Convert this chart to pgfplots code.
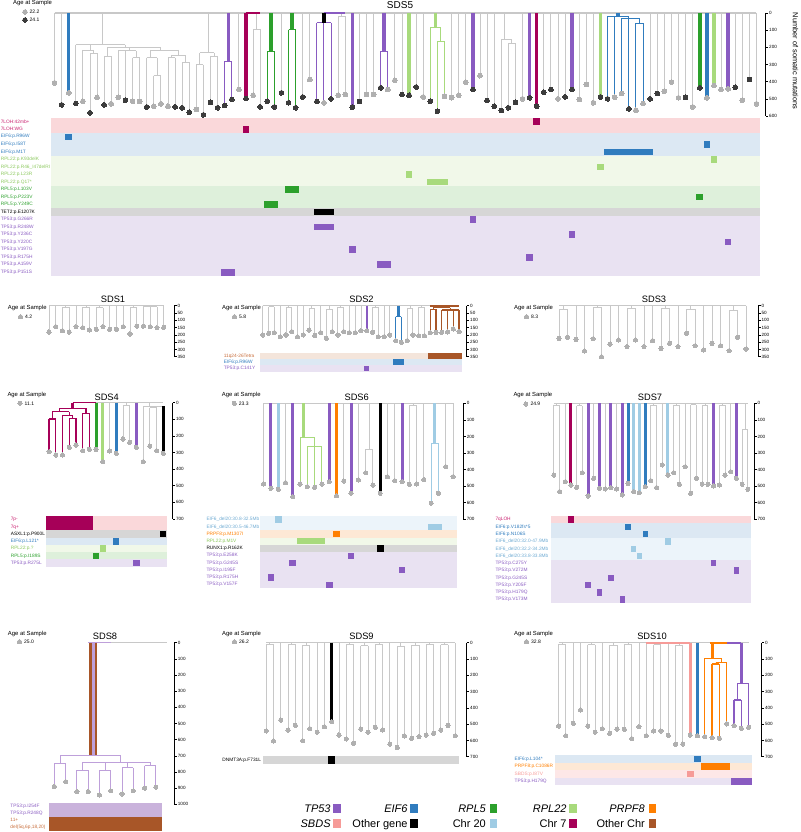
\documentclass[border=0pt]{standalone}
\usepackage{pgfplots}
\pgfplotsset{compat=1.18}
\usepackage{fontspec}
\setmainfont{Liberation Sans}
\definecolor{cTP}{RGB}{137,91,193}
\definecolor{cTPl}{RGB}{190,160,218}
\definecolor{cEIF}{RGB}{48,124,190}
\definecolor{cRPL5}{RGB}{44,160,44}
\definecolor{cRPL22}{RGB}{168,218,124}
\definecolor{cPRPF}{RGB}{255,127,0}
\definecolor{cSBDS}{RGB}{246,155,152}
\definecolor{cC20}{RGB}{160,204,228}
\definecolor{cC7}{RGB}{166,0,88}
\definecolor{cOC}{RGB}{168,86,40}
\definecolor{cGr}{RGB}{200,200,200}
\definecolor{cDL}{RGB}{176,176,176}
\definecolor{cDD}{RGB}{60,60,60}
\definecolor{bC7}{RGB}{250,216,218}
\definecolor{bEIF}{RGB}{220,232,243}
\definecolor{bRPL22}{RGB}{241,248,233}
\definecolor{bRPL5}{RGB}{222,240,219}
\definecolor{bOth}{RGB}{214,214,214}
\definecolor{bTP}{RGB}{233,226,242}
\definecolor{bC20}{RGB}{236,244,250}
\definecolor{bPRPF}{RGB}{253,232,213}
\definecolor{bSBDS}{RGB}{253,231,231}
\definecolor{bOC}{RGB}{244,229,219}
\definecolor{bTP8}{RGB}{201,178,219}
\definecolor{lC7}{RGB}{200,30,110}
\definecolor{lRPL22}{RGB}{140,200,95}
\definecolor{lC20}{RGB}{110,170,210}
\definecolor{lOC}{RGB}{200,110,60}
\pgfplotsset{
  unbounded coords=jump,
  /pgf/number format/assume math mode=true,
  /pgf/number format/1000 sep={},
  tree/.style={scale only axis, clip=false, anchor=north west, y dir=reverse,
    axis x line=none, axis y line*=right, y axis line style={-,line width=0.6pt,black},
    ytick style={line width=0.6pt,black}, tick align=outside, major tick length=2.5pt,
    yticklabel style={font=\fontsize{4.6}{5}\selectfont, inner sep=0.8pt}, xmin=0.5, ymin=0},
  mat/.style={scale only axis, clip=false, anchor=north west, y dir=reverse,
    axis line style={draw=none}, xtick=\empty, ytick style={draw=none}, major tick length=0pt,
    yticklabel style={font=\fontsize{4.8}{5.5}\selectfont, anchor=east, text width=#1, align=left, inner sep=0pt},
    xmin=0.5, ymin=0.5},
  tg/.style={color=cGr, line width=0.9pt},
  tk/.style={color=#1, line width=3pt},
  tn/.style={color=#1, line width=1pt},
  dl/.style={only marks, color=cDL, mark=*, mark size=2.1pt, mark options={draw=cDL, fill=cDL, line width=0pt}},
  dd/.style={only marks, color=cDD, mark=*, mark size=2.1pt, mark options={draw=cDD, fill=cDD, line width=0pt}},
}
\newcommand{\rect}[5]{\addplot[fill=#5,draw=none,forget plot] coordinates {(#1,#2) (#3,#2) (#3,#4) (#1,#4)};}
\newcommand{\cell}[4]{%
  \pgfmathsetmacro{\cxa}{#1-0.46}\pgfmathsetmacro{\cxb}{#2+0.46}%
  \pgfmathsetmacro{\cya}{#3-0.44}\pgfmathsetmacro{\cyb}{#3+0.44}%
  \edef\celltmp{\noexpand\addplot[fill=#4,draw=none,forget plot] coordinates {(\cxa,\cya) (\cxb,\cya) (\cxb,\cyb) (\cxa,\cyb)};}%
  \celltmp}
\begin{document}
\begin{tikzpicture}
\useasboundingbox (0,0) rectangle (800pt,-832pt);

%================ SDS5 tree
\begin{axis}[tree, at={(51pt,-13pt)}, width=714.7pt, height=103.2pt, xmax=101.3, ymax=600, ytick={0,100,...,600}]
\addplot[tg] coordinates {(1,0)(1,406) (nan,nan) (2,0)(2,534) (nan,nan)
(7.7,0)(7.7,184) (nan,nan) (4,184)(11,184) (nan,nan) (4,184)(4,526) (nan,nan)
(6,184)(6,215) (nan,nan) (5,215)(6.5,215) (nan,nan) (5,215)(5,513) (nan,nan)
(6.5,215)(6.5,235) (nan,nan) (6,235)(7,235) (nan,nan) (6,235)(6,580) (nan,nan) (7,235)(7,490) (nan,nan)
(11,184)(11,200) (nan,nan) (8.5,200)(16,200) (nan,nan)
(8.5,200)(8.5,250) (nan,nan) (8,250)(9,250) (nan,nan) (8,250)(8,534) (nan,nan) (9,250)(9,528) (nan,nan)
(11.5,200)(11.5,220) (nan,nan) (10,220)(12.5,220) (nan,nan) (10,220)(10,490) (nan,nan) (11,220)(11,507) (nan,nan)
(12.5,220)(12.5,260) (nan,nan) (12,260)(13,260) (nan,nan) (12,260)(12,513) (nan,nan) (13,260)(13,515) (nan,nan)
(16,200)(16,215) (nan,nan) (14.5,215)(18.5,215) (nan,nan)
(14.5,215)(14.5,261) (nan,nan) (14,261)(15.5,261) (nan,nan) (14,261)(14,546) (nan,nan)
(15.5,261)(15.5,364) (nan,nan) (15,364)(16,364) (nan,nan) (15,364)(15,542) (nan,nan) (16,364)(16,528) (nan,nan)
(18.5,215)(18.5,245) (nan,nan) (17.5,245)(19.5,245) (nan,nan)
(17.5,245)(17.5,260) (nan,nan) (17,260)(18,260) (nan,nan) (17,260)(17,542) (nan,nan) (18,260)(18,546) (nan,nan)
(19.5,245)(19.5,286) (nan,nan) (19,286)(20,286) (nan,nan) (19,286)(19,551) (nan,nan) (20,286)(20,577) (nan,nan)
(22.7,0)(22.7,232) (nan,nan) (21.5,232)(23.5,232) (nan,nan)
(21.5,232)(21.5,300) (nan,nan) (21,300)(22,300) (nan,nan) (21,300)(21,561) (nan,nan) (22,300)(22,592) (nan,nan)
(23.5,232)(23.5,250) (nan,nan) (23,250)(24,250) (nan,nan) (23,250)(23,519) (nan,nan) (24,250)(24,551) (nan,nan)
(27,0)(27,445) (nan,nan)
(29.5,0)(29.5,93) (nan,nan) (29,93)(30,93) (nan,nan) (29,93)(29,478) (nan,nan) (30,93)(30,546) (nan,nan)
(33,0)(33,464) (nan,nan) (36,0)(36,488) (nan,nan) (37,0)(37,387) (nan,nan)
(41.5,0)(41.5,20) (nan,nan) (41,20)(42,20) (nan,nan) (41,20)(41,478) (nan,nan) (42,20)(42,474) (nan,nan)
(44,0)(44,515) (nan,nan) (45,0)(45,474) (nan,nan) (46,0)(46,474) (nan,nan)
(49,0)(49,391) (nan,nan) (50,0)(50,474) (nan,nan) (52,0)(52,430) (nan,nan) (53,0)(53,488) (nan,nan)
(57,0)(57,492) (nan,nan) (58,0)(58,478) (nan,nan) (59,0)(59,402) (nan,nan)
(61,0)(61,364) (nan,nan) (62,0)(62,509) (nan,nan) (63,0)(63,542) (nan,nan)
(64.5,0)(64.5,155) (nan,nan) (64,155)(65.5,155) (nan,nan) (64,155)(64,567) (nan,nan)
(65.5,155)(65.5,175) (nan,nan) (65,175)(66,175) (nan,nan) (65,175)(65,551) (nan,nan) (66,175)(66,519) (nan,nan)
(67,0)(67,499) (nan,nan)
(70,0)(70,461) (nan,nan) (71,0)(71,445) (nan,nan) (72,0)(72,499) (nan,nan) (73,0)(73,488) (nan,nan)
(75,0)(75,503) (nan,nan) (76,0)(76,416) (nan,nan) (77,0)(77,522) (nan,nan)
(85,0)(85,499) (nan,nan) (86,0)(86,468) (nan,nan) (87,0)(87,455) (nan,nan) (88,0)(88,402) (nan,nan)
(89,0)(89,493) (nan,nan) (90,0)(90,490) (nan,nan) (91,0)(91,546) (nan,nan)
(95,0)(95,445) (nan,nan)
(97,0)(97,432) (nan,nan) (98,0)(98,507) (nan,nan) (99,0)(99,387) (nan,nan) (100,0)(100,528)};
\addplot[color=cGr, line width=1.6pt] coordinates {(1,0)(100,0)};
\addplot[tk=cTP, line width=3.5pt] coordinates {(25.5,0)(25.5,281) (nan,nan) (43,0)(43,548) (nan,nan) (47.5,0)(47.5,222) (nan,nan) (60,0)(60,445) (nan,nan) (68,0)(68,493) (nan,nan) (74,0)(74,445) (nan,nan) (96,0)(96,441)};
\addplot[tn=cTP] coordinates {(25,281)(26,281) (nan,nan) (25,281)(25,538) (nan,nan) (26,281)(26,503) (nan,nan)
(38,58)(40,58) (nan,nan) (38,58)(38,515) (nan,nan) (39,58)(39,522) (nan,nan) (40,58)(40,499) (nan,nan)
(47,222)(48,222) (nan,nan) (47,222)(47,435) (nan,nan) (48,222)(48,445)};
\addplot[tk=cTP, line width=2pt] coordinates {(39,0)(42,0)};
\addplot[tk=cC7, line width=3.5pt] coordinates {(28,0)(28,497) (nan,nan) (69,0)(69,542)};
\addplot[tk=cC7, line width=1.5pt] coordinates {(28,0)(30,0)};
\addplot[tk=cRPL5, line width=3.5pt] coordinates {(31.5,0)(31.5,222) (nan,nan) (34.5,0)(34.5,97) (nan,nan) (92,0)(92,435)};
\addplot[tn=cRPL5] coordinates {(31,222)(32,222) (nan,nan) (31,222)(31,513) (nan,nan) (32,222)(32,546) (nan,nan)
(34,97)(35,97) (nan,nan) (34,97)(34,522) (nan,nan) (35,97)(35,551)};
\addplot[tk=cRPL22, line width=3.5pt] coordinates {(51,0)(51,478) (nan,nan) (54.75,0)(54.75,87) (nan,nan) (78,0)(78,488) (nan,nan) (94,0)(94,422)};
\addplot[tn=cRPL22] coordinates {(54,87)(55.5,87) (nan,nan) (54,87)(54,513) (nan,nan) (55.5,87)(55.5,164) (nan,nan) (55,164)(56,164) (nan,nan) (55,164)(55,571) (nan,nan) (56,164)(56,484)};
\addplot[tk=cEIF, line width=3.5pt] coordinates {(3,0)(3,464) (nan,nan) (80.5,0)(80.5,20) (nan,nan) (93,0)(93,493)};
\addplot[tn=cEIF] coordinates {(79,20)(82,20) (nan,nan) (79,20)(79,499) (nan,nan) (80,20)(80,490) (nan,nan) (82,20)(82,30) (nan,nan) (81,30)(83.5,30) (nan,nan) (81,30)(81,468) (nan,nan) (82,30)(82,557) (nan,nan) (83.5,30)(83.5,60) (nan,nan) (83,60)(84,60) (nan,nan) (83,60)(83,565) (nan,nan) (84,60)(84,526)};
\addplot[tk=black, line width=3.5pt] coordinates {(39,0)(39,58)};
\addplot[dl, mark size=2.4pt] coordinates {(1,406)(3,464)(5,513)(7,490)(9,528)(10,490)(12,513)(13,515)(15,542)(16,528)(17,542)(21,561)(27,445)(29,478)(37,387)(39,522)(41,478)(42,474)(45,474)(46,474)(48,445)(49,391)(53,488)(56,484)(57,492)(58,478)(59,402)(61,364)(67,499)(72,499)(75,503)(76,416)(77,522)(80,490)(81,468)(83,565)(84,526)(87,455)(88,402)(89,493)(91,546)(93,493)(94,422)(95,445)(96,441)(98,507)(100,528)};
\addplot[dd, mark size=2.4pt] coordinates {(2,534)(4,526)(6,580)(8,534)(11,507)(14,546)(18,546)(19,551)(20,577)(22,592)(23,519)(24,551)(25,538)(26,503)(28,497)(30,546)(31,513)(32,546)(33,464)(34,522)(35,551)(36,488)(38,515)(40,499)(43,548)(44,515)(47,435)(50,474)(51,478)(52,430)(54,513)(55,571)(60,445)(62,509)(63,542)(64,567)(65,551)(66,519)(68,493)(69,542)(70,461)(71,445)(73,488)(74,445)(78,488)(79,499)(82,557)(85,499)(86,468)(90,490)(92,435)(97,432)(99,387)};
\end{axis}

%================ SDS5 matrix
\begin{axis}[mat=50pt, at={(51pt,-118pt)}, width=709pt, height=158pt, xmax=100.5, ymax=21.5,
  ytick={1,...,21},
  yticklabels={{\textcolor{lC7}{7LOH:42mb+}},{\textcolor{lC7}{7LOH:WG}},{\textcolor{cEIF}{EIF6:p.R96W}},{\textcolor{cEIF}{EIF6:p.I58T}},{\textcolor{cEIF}{EIF6:p.M1T}},
  {\textcolor{lRPL22}{RPL22:p.K93delK}},{\textcolor{lRPL22}{RPL22:p.R46\_I47delRI}},{\textcolor{lRPL22}{RPL22:p.L23R}},{\textcolor{lRPL22}{RPL22:p.Q17*}},
  {\textcolor{cRPL5}{RPL5:p.L103V}},{\textcolor{cRPL5}{RPL5:p.P223V}},{\textcolor{cRPL5}{RPL5:p.Y249C}},{TET2:p.E1207K},
  {\textcolor{cTP}{TP53:p.G266R}},{\textcolor{cTP}{TP53:p.R248W}},{\textcolor{cTP}{TP53:p.Y236C}},{\textcolor{cTP}{TP53:p.Y220C}},{\textcolor{cTP}{TP53:p.V197G}},{\textcolor{cTP}{TP53:p.R175H}},{\textcolor{cTP}{TP53:p.A159V}},{\textcolor{cTP}{TP53:p.P151S}}}]
\rect{0.5}{0.5}{100.5}{2.5}{bC7}
\rect{0.5}{2.5}{100.5}{5.5}{bEIF}
\rect{0.5}{5.5}{100.5}{9.5}{bRPL22}
\rect{0.5}{9.5}{100.5}{12.5}{bRPL5}
\rect{0.5}{12.5}{100.5}{13.5}{bOth}
\rect{0.5}{13.5}{100.5}{21.5}{bTP}
\cell{69}{69}{1}{cC7}
\cell{28}{28}{2}{cC7}
\cell{3}{3}{3}{cEIF}
\cell{93}{93}{4}{cEIF}
\cell{79}{85}{5}{cEIF}
\cell{94}{94}{6}{cRPL22}
\cell{78}{78}{7}{cRPL22}
\cell{51}{51}{8}{cRPL22}
\cell{54}{56}{9}{cRPL22}
\cell{34}{35}{10}{cRPL5}
\cell{92}{92}{11}{cRPL5}
\cell{31}{32}{12}{cRPL5}
\cell{38}{40}{13}{black}
\cell{60}{60}{14}{cTP}
\cell{38}{40}{15}{cTP}
\cell{74}{74}{16}{cTP}
\cell{96}{96}{17}{cTP}
\cell{43}{43}{18}{cTP}
\cell{68}{68}{19}{cTP}
\cell{47}{48}{20}{cTP}
\cell{25}{26}{21}{cTP}
\end{axis}

%================ SDS1
\begin{axis}[tree, at={(45.6pt,-305.7pt)}, width=128.4pt, height=51pt, xmax=19.52, ymax=350, ytick={0,50,...,350}]
\addplot[tg] coordinates {(1,0)(18,0) (nan,nan)
(1,0)(1,181) (nan,nan) (2,0)(2,144) (nan,nan)
(3.5,0)(3.5,12) (nan,nan) (3,12)(4,12) (nan,nan) (3,12)(3,172) (nan,nan) (4,12)(4,181) (nan,nan)
(5,0)(5,144) (nan,nan)
(6.5,0)(6.5,10) (nan,nan) (6,10)(7,10) (nan,nan) (6,10)(6,151) (nan,nan) (7,10)(7,167) (nan,nan)
(8.5,0)(8.5,14) (nan,nan) (8,14)(9,14) (nan,nan) (8,14)(8,162) (nan,nan) (9,14)(9,144) (nan,nan)
(10,0)(10,162) (nan,nan) (11,0)(11,162) (nan,nan) (12,0)(12,144) (nan,nan)
(13.5,0)(13.5,10) (nan,nan) (13,10)(14,10) (nan,nan) (13,10)(13,194) (nan,nan) (14,10)(14,140) (nan,nan)
(16,0)(16,8) (nan,nan) (15,8)(17,8) (nan,nan) (15,8)(15,140) (nan,nan) (16,8)(16,144) (nan,nan) (17,8)(17,151) (nan,nan)
(18,0)(18,149)};
\addplot[dl] coordinates {(1,181)(2,144)(3,172)(4,181)(5,144)(6,151)(7,167)(8,162)(9,144)(10,162)(11,162)(12,144)(13,194)(14,140)(15,140)(16,144)(17,151)(18,149)};
\end{axis}

%================ SDS2
\begin{axis}[tree, at={(260pt,-305.7pt)}, width=206.7pt, height=51pt, xmax=36.32, ymax=350, ytick={0,50,...,350}]
\addplot[tg] coordinates {(1,0)(35,0) (nan,nan)
(1,0)(1,201) (nan,nan)
(2.5,0)(2.5,8) (nan,nan) (2,8)(3,8) (nan,nan) (2,8)(2,190) (nan,nan) (3,8)(3,185) (nan,nan)
(4,0)(4,213) (nan,nan)
(5.5,0)(5.5,15) (nan,nan) (5,15)(6,15) (nan,nan) (5,15)(5,201) (nan,nan) (6,15)(6,178) (nan,nan)
(7,0)(7,213) (nan,nan) (8,0)(8,201) (nan,nan)
(9.5,0)(9.5,18) (nan,nan) (9,18)(10,18) (nan,nan) (9,18)(9,167) (nan,nan) (10,18)(10,204) (nan,nan)
(11,0)(11,185) (nan,nan)
(12.5,0)(12.5,25) (nan,nan) (12,25)(13,25) (nan,nan) (12,25)(12,224) (nan,nan) (13,25)(13,178) (nan,nan)
(14.5,0)(14.5,10) (nan,nan) (14,10)(15,10) (nan,nan) (14,10)(14,201) (nan,nan) (15,10)(15,178) (nan,nan)
(16,0)(16,185) (nan,nan) (17,0)(17,185) (nan,nan) (18,0)(18,172) (nan,nan)
(20.5,0)(20.5,12) (nan,nan) (20,12)(21,12) (nan,nan) (20,12)(20,183) (nan,nan) (21,12)(21,213) (nan,nan)
(22,0)(22,213) (nan,nan) (23,0)(23,201) (nan,nan)
(26.5,0)(26.5,20) (nan,nan) (26,20)(27,20) (nan,nan) (26,20)(26,240) (nan,nan) (27,20)(27,201) (nan,nan)
(28.5,0)(28.5,10) (nan,nan) (28,10)(29,10) (nan,nan) (28,10)(28,206) (nan,nan) (29,10)(29,206)};
\addplot[tk=cTP, line width=2.2pt] coordinates {(19,0)(19,172)};
\addplot[tk=cEIF, line width=2.2pt] coordinates {(24.5,0)(24.5,75)};
\addplot[tn=cEIF] coordinates {(24,75)(25,75) (nan,nan) (24,75)(24,240) (nan,nan) (25,75)(25,252)};
\addplot[tk=cOC, line width=2pt] coordinates {(32.25,0)(32.25,15) (nan,nan) (30,0)(35,0)};
\addplot[tn=cOC, line width=1.2pt] coordinates {(30.5,15)(33.5,15) (nan,nan) (30.5,15)(30.5,25) (nan,nan) (30,25)(31,25) (nan,nan) (30,25)(30,185) (nan,nan) (31,25)(31,183) (nan,nan) (33.5,15)(33.5,30) (nan,nan) (32,30)(35,30) (nan,nan) (32,30)(32,183) (nan,nan) (33,30)(33,180) (nan,nan) (34,30)(34,160) (nan,nan) (35,30)(35,178)};
\addplot[dl] coordinates {(1,201)(2,190)(3,185)(4,213)(5,201)(6,178)(7,213)(8,201)(9,167)(10,204)(11,185)(12,224)(13,178)(14,201)(15,178)(16,185)(17,185)(18,172)(19,172)(20,183)(21,213)(22,213)(23,201)(24,240)(25,252)(26,240)(27,201)(28,206)(29,206)(30,185)(31,183)(32,183)(33,180)(34,160)(35,178)};
\end{axis}
\begin{axis}[mat=36pt, at={(260pt,-352.7pt)}, width=202pt, height=19pt, xmax=35.5, ymax=3.5,
  ytick={1,2,3}, yticklabels={{\textcolor{lOC}{11q24-26Tetra}},{\textcolor{cEIF}{EIF6:p.R96W}},{\textcolor{cTP}{TP53:p.C141Y}}}]
\rect{0.5}{0.5}{35.5}{1.5}{bOC}
\rect{0.5}{1.5}{35.5}{2.5}{bEIF}
\rect{0.5}{2.5}{35.5}{3.5}{bTP}
\cell{30}{35}{1}{cOC}
\cell{24}{25}{2}{cEIF}
\cell{19}{19}{3}{cTP}
\end{axis}

%================ SDS3
\begin{axis}[tree, at={(554.75pt,-305.7pt)}, width=203.25pt, height=51pt, xmax=24.41, ymax=350, ytick={0,50,...,350}]
\addplot[tg] coordinates {(1,0)(23,0) (nan,nan)
(1.5,0)(1.5,25) (nan,nan) (1,25)(2,25) (nan,nan) (1,25)(1,224) (nan,nan) (2,25)(2,217) (nan,nan)
(3,0)(3,231) (nan,nan) (4,0)(4,311) (nan,nan)
(5.5,0)(5.5,15) (nan,nan) (5,15)(6,15) (nan,nan) (5,15)(5,227) (nan,nan) (6,15)(6,350) (nan,nan)
(7,0)(7,263) (nan,nan) (8,0)(8,236) (nan,nan)
(9.5,0)(9.5,20) (nan,nan) (9,20)(10,20) (nan,nan) (9,20)(9,281) (nan,nan) (10,20)(10,236) (nan,nan)
(11,0)(11,281) (nan,nan) (12,0)(12,240) (nan,nan)
(13.5,0)(13.5,20) (nan,nan) (13,20)(14,20) (nan,nan) (13,20)(13,293) (nan,nan) (14,20)(14,259) (nan,nan)
(15,0)(15,281) (nan,nan)
(16.5,0)(16.5,25) (nan,nan) (16,25)(17,25) (nan,nan) (16,25)(16,190) (nan,nan) (17,25)(17,275) (nan,nan)
(18,0)(18,304) (nan,nan) (19,0)(19,259) (nan,nan) (20,0)(20,275) (nan,nan)
(21.5,0)(21.5,30) (nan,nan) (21,30)(22,30) (nan,nan) (21,30)(21,309) (nan,nan) (22,30)(22,217) (nan,nan)
(23,0)(23,297)};
\addplot[dl] coordinates {(1,224)(2,217)(3,231)(4,311)(5,227)(6,350)(7,263)(8,236)(9,281)(10,236)(11,281)(12,240)(13,293)(14,259)(15,281)(16,190)(17,275)(18,304)(19,259)(20,275)(21,309)(22,217)(23,297)};
\end{axis}

%================ SDS4
\begin{axis}[tree, at={(45.7pt,-402.7pt)}, width=126.8pt, height=116.3pt, xmax=19.37, ymax=700, ytick={0,100,...,700}]
\addplot[tg] coordinates {(8,0)(18,0) (nan,nan) (10,0)(10,291) (nan,nan)
(12.5,0)(12.5,15) (nan,nan) (12,15)(13,15) (nan,nan) (12,15)(12,219) (nan,nan) (13,15)(13,239) (nan,nan)
(16,0)(16,20) (nan,nan) (15,20)(18,20) (nan,nan) (15,20)(15,355) (nan,nan)
(16.5,20)(16.5,30) (nan,nan) (16,30)(17,30) (nan,nan) (16,30)(16,261) (nan,nan) (17,30)(17,289)};
\addplot[tk=cC7, line width=2.5pt] coordinates {(4.5,0)(4.5,34)};
\addplot[tn=cC7, line width=1.2pt] coordinates {(4.5,0)(8,0) (nan,nan)
(2.5,34)(6.5,34) (nan,nan) (2.5,34)(2.5,55) (nan,nan) (1.5,55)(4,55) (nan,nan)
(1.5,55)(1.5,98) (nan,nan) (1,98)(2,98) (nan,nan) (1,98)(1,295) (nan,nan) (2,98)(2,315) (nan,nan)
(4,55)(4,75) (nan,nan) (3,75)(4.5,75) (nan,nan) (3,75)(3,315) (nan,nan)
(4.5,75)(4.5,95) (nan,nan) (4,95)(5,95) (nan,nan) (4,95)(4,269) (nan,nan) (5,95)(5,255) (nan,nan)
(6.5,34)(6.5,64) (nan,nan) (6,64)(7,64) (nan,nan) (6,64)(6,289) (nan,nan) (7,64)(7,281)};
\addplot[tk=cRPL5] coordinates {(8,0)(8,281)};
\addplot[tk=cRPL22] coordinates {(9,0)(9,355)};
\addplot[tk=cEIF] coordinates {(11,0)(11,305)};
\addplot[tk=cTP] coordinates {(14,0)(14,269)};
\addplot[tk=black] coordinates {(18,20)(18,305)};
\addplot[dl] coordinates {(1,295)(2,315)(3,315)(4,269)(5,255)(6,289)(7,281)(8,281)(9,355)(10,291)(11,305)(12,219)(13,239)(14,269)(15,355)(16,261)(17,289)(18,305)};
\end{axis}
\begin{axis}[mat=34.7pt, at={(45.7pt,-516pt)}, width=121pt, height=50.7pt, xmax=18.5, ymax=7.5,
  ytick={1,...,7}, yticklabels={{\textcolor{lC7}{7p-}},{\textcolor{lC7}{7q+}},{ASXL1:p.P900L},{\textcolor{cEIF}{EIF6:p.L121*}},{\textcolor{lRPL22}{RPL22:p.?}},{\textcolor{cRPL5}{RPL5:p.I189S}},{\textcolor{cTP}{TP53:p.R275L}}}]
\rect{0.5}{0.5}{18.5}{2.5}{bC7}
\rect{0.5}{2.5}{18.5}{3.5}{bOth}
\rect{0.5}{3.5}{18.5}{4.5}{bEIF}
\rect{0.5}{4.5}{18.5}{5.5}{bRPL22}
\rect{0.5}{5.5}{18.5}{6.5}{bRPL5}
\rect{0.5}{6.5}{18.5}{7.5}{bTP}
\rect{0.5}{0.5}{7.5}{2.5}{cC7}
\cell{18}{18}{3}{black}
\cell{11}{11}{4}{cEIF}
\cell{9}{9}{5}{cRPL22}
\cell{8}{8}{6}{cRPL5}
\cell{14}{14}{7}{cTP}
\end{axis}

%================ SDS6
\begin{axis}[tree, at={(260pt,-403.3pt)}, width=203.3pt, height=116pt, xmax=28.41, ymax=700, ytick={0,100,...,700}]
\addplot[tg] coordinates {(1,0)(27,0) (nan,nan) (1,0)(1,487) (nan,nan) (4,0)(4,479) (nan,nan) (12,0)(12,469) (nan,nan) (14,0)(14,463) (nan,nan)
(15.5,0)(15.5,276) (nan,nan) (15,276)(16,276) (nan,nan) (15,276)(15,419) (nan,nan) (16,276)(16,493) (nan,nan)
(18,0)(18,443) (nan,nan) (19,0)(19,467) (nan,nan)
(21.5,0)(21.5,12) (nan,nan) (21,12)(22,12) (nan,nan) (21,12)(21,489) (nan,nan) (22,12)(22,487) (nan,nan)
(23,0)(23,460) (nan,nan) (26,0)(26,383) (nan,nan) (27,0)(27,443)};
\addplot[tk=cTP] coordinates {(2,0)(2,513) (nan,nan) (5,0)(5,564) (nan,nan) (10,0)(10,473) (nan,nan) (13,0)(13,543) (nan,nan) (20,0)(20,473)};
\addplot[tk=cC20] coordinates {(3,0)(3,519) (nan,nan) (24.5,0)(24.5,240)};
\addplot[tn=cC20] coordinates {(24,240)(25,240) (nan,nan) (24,240)(24,603) (nan,nan) (25,240)(25,543)};
\addplot[tk=cPRPF] coordinates {(11,0)(11,558)};
\addplot[tk=black] coordinates {(17,0)(17,543)};
\addplot[tk=cRPL22] coordinates {(6.5,0)(6.5,204)};
\addplot[tn=cRPL22] coordinates {(6,204)(8,204) (nan,nan) (6,204)(6,487) (nan,nan) (8,204)(8,260) (nan,nan) (7,260)(9,260) (nan,nan) (7,260)(7,503) (nan,nan) (8,260)(8,507) (nan,nan) (9,260)(9,487)};
\addplot[dl] coordinates {(1,487)(2,513)(3,519)(4,479)(5,564)(6,487)(7,503)(8,507)(9,487)(10,473)(11,558)(12,469)(13,543)(14,463)(15,419)(16,493)(17,543)(18,443)(19,467)(20,473)(21,489)(22,487)(23,460)(24,603)(25,543)(26,383)(27,443)};
\end{axis}
\begin{axis}[mat=53.3pt, at={(260pt,-516pt)}, width=196.7pt, height=72.3pt, xmax=27.5, ymax=10.5,
  ytick={1,...,10}, yticklabels={{\textcolor{lC20}{EIF6\_del20:30.8-32.5Mb}},{\textcolor{lC20}{EIF6\_del20:30.5-46.7Mb}},{\textcolor{cPRPF}{PRPF8:p.M1307I}},{\textcolor{lRPL22}{RPL22:p.M1V}},{RUNX1:p.R162K},{\textcolor{cTP}{TP53:p.E258K}},{\textcolor{cTP}{TP53:p.G245S}},{\textcolor{cTP}{TP53:p.I195F}},{\textcolor{cTP}{TP53:p.R175H}},{\textcolor{cTP}{TP53:p.V157F}}}]
\rect{0.5}{0.5}{27.5}{2.5}{bC20}
\rect{0.5}{2.5}{27.5}{3.5}{bPRPF}
\rect{0.5}{3.5}{27.5}{4.5}{bRPL22}
\rect{0.5}{4.5}{27.5}{5.5}{bOth}
\rect{0.5}{5.5}{27.5}{10.5}{bTP}
\cell{3}{3}{1}{cC20}
\cell{24}{25}{2}{cC20}
\cell{11}{11}{3}{cPRPF}
\cell{6}{9}{4}{cRPL22}
\cell{17}{17}{5}{black}
\cell{13}{13}{6}{cTP}
\cell{5}{5}{7}{cTP}
\cell{20}{20}{8}{cTP}
\cell{2}{2}{9}{cTP}
\cell{10}{10}{10}{cTP}
\end{axis}

%================ SDS7
\begin{axis}[tree, at={(551pt,-403.3pt)}, width=203pt, height=116pt, xmax=36.08, ymax=700, ytick={0,100,...,700}]
\addplot[tg] coordinates {(1,0)(35,0) (nan,nan)
(1.5,0)(1.5,10) (nan,nan) (1,10)(2,10) (nan,nan) (1,10)(1,433) (nan,nan) (2,10)(2,533) (nan,nan)
(3,0)(3,473) (nan,nan)
(5.5,0)(5.5,15) (nan,nan) (5,15)(6,15) (nan,nan) (5,15)(5,507) (nan,nan) (6,15)(6,419) (nan,nan)
(8,0)(8,453) (nan,nan) (10,0)(10,517) (nan,nan) (12,0)(12,517) (nan,nan)
(18.5,0)(18.5,12) (nan,nan) (18,12)(19,12) (nan,nan) (18,12)(18,467) (nan,nan) (19,12)(19,509) (nan,nan)
(20,0)(20,372) (nan,nan)
(22.5,0)(22.5,10) (nan,nan) (22,10)(23,10) (nan,nan) (22,10)(22,419) (nan,nan) (23,10)(23,489) (nan,nan)
(24,0)(24,383) (nan,nan)
(25.5,0)(25.5,8) (nan,nan) (25,8)(26,8) (nan,nan) (25,8)(25,543) (nan,nan) (26,8)(26,453) (nan,nan)
(27.5,0)(27.5,15) (nan,nan) (27,15)(28,15) (nan,nan) (27,15)(27,487) (nan,nan) (28,15)(28,489) (nan,nan)
(30.5,0)(30.5,12) (nan,nan) (30,12)(31,12) (nan,nan) (30,12)(30,493) (nan,nan) (31,12)(31,433) (nan,nan)
(32,0)(32,413) (nan,nan)
(34.5,0)(34.5,156) (nan,nan) (34,156)(35,156) (nan,nan) (34,156)(34,489) (nan,nan) (35,156)(35,519)};
\addplot[tk=cC7] coordinates {(4,0)(4,493)};
\addplot[tk=cTP] coordinates {(7,0)(7,559) (nan,nan) (9,0)(9,513) (nan,nan) (11,0)(11,509) (nan,nan) (13,0)(13,553) (nan,nan) (29,0)(29,499) (nan,nan) (33,0)(33,453)};
\addplot[tk=cEIF] coordinates {(14,0)(14,483) (nan,nan) (17,0)(17,503)};
\addplot[tk=cC20] coordinates {(15,0)(15,533) (nan,nan) (16,0)(16,539) (nan,nan) (21,0)(21,433)};
\addplot[dl] coordinates {(1,433)(2,533)(3,473)(4,493)(5,507)(6,419)(7,559)(8,453)(9,513)(10,517)(11,509)(12,517)(13,553)(14,483)(15,533)(16,539)(17,503)(18,467)(19,509)(20,372)(21,433)(22,419)(23,489)(24,383)(25,543)(26,453)(27,487)(28,489)(29,499)(30,493)(31,433)(32,413)(33,453)(34,489)(35,519)};
\end{axis}
\begin{axis}[mat=55.3pt, at={(551pt,-516pt)}, width=199.7pt, height=87.3pt, xmax=35.5, ymax=12.5,
  ytick={1,...,12}, yticklabels={{\textcolor{lC7}{7qLOH}},{\textcolor{cEIF}{EIF6:p.V182fs*5}},{\textcolor{cEIF}{EIF6:p.N106S}},{\textcolor{lC20}{EIF6\_del20:32.0-47.9Mb}},{\textcolor{lC20}{EIF6\_del20:32.2-34.2Mb}},{\textcolor{lC20}{EIF6\_del20:33.8-33.8Mb}},{\textcolor{cTP}{TP53:p.C275Y}},{\textcolor{cTP}{TP53:p.V272M}},{\textcolor{cTP}{TP53:p.G245S}},{\textcolor{cTP}{TP53:p.Y205F}},{\textcolor{cTP}{TP53:p.H179Q}},{\textcolor{cTP}{TP53:p.V173M}}}]
\rect{0.5}{0.5}{35.5}{1.5}{bC7}
\rect{0.5}{1.5}{35.5}{3.5}{bEIF}
\rect{0.5}{3.5}{35.5}{6.5}{bC20}
\rect{0.5}{6.5}{35.5}{12.5}{bTP}
\cell{4}{4}{1}{cC7}
\cell{14}{14}{2}{cEIF}
\cell{17}{17}{3}{cEIF}
\cell{21}{21}{4}{cC20}
\cell{15}{15}{5}{cC20}
\cell{16}{16}{6}{cC20}
\cell{29}{29}{7}{cTP}
\cell{33}{33}{8}{cTP}
\cell{11}{11}{9}{cTP}
\cell{7}{7}{10}{cTP}
\cell{9}{9}{11}{cTP}
\cell{13}{13}{12}{cTP}
\end{axis}

%================ SDS8
\begin{axis}[tree, at={(48.7pt,-642.7pt)}, width=125.7pt, height=161.6pt, xmax=11.64, ymax=1000, ytick={0,100,...,1000}]
\addplot[tg, line width=1.2pt] coordinates {(4,0)(11,0)};
\addplot[color=cTPl, line width=1.5pt] coordinates {(4,0)(6,0)};
\addplot[color=cOC, line width=8.5pt] coordinates {(4.43,0)(4.43,695)};
\addplot[color=cTPl, line width=3pt] coordinates {(4.43,0)(4.43,695)};
\addplot[color=cTPl, line width=1pt] coordinates {(1.55,695)(6.87,695) (nan,nan)
(1.55,695)(1.55,745) (nan,nan) (1,745)(2,745) (nan,nan) (1,745)(1,890) (nan,nan) (2,745)(2,860) (nan,nan)
(6.87,695)(6.87,740) (nan,nan) (3.5,740)(9.5,740) (nan,nan)
(3.5,740)(3.5,790) (nan,nan) (3,790)(4,790) (nan,nan) (3,790)(3,921) (nan,nan) (4,790)(4,921) (nan,nan)
(5.5,740)(5.5,790) (nan,nan) (5,790)(6,790) (nan,nan) (5,790)(5,942) (nan,nan) (6,790)(6,917) (nan,nan)
(7.5,740)(7.5,775) (nan,nan) (7,775)(8,775) (nan,nan) (7,775)(7,936) (nan,nan) (8,775)(8,917) (nan,nan)
(9.5,740)(9.5,760) (nan,nan) (9,760)(10,760) (nan,nan) (9,760)(9,900) (nan,nan) (10,760)(10,894)};
\addplot[dl] coordinates {(1,890)(2,860)(3,921)(4,921)(5,942)(6,917)(7,936)(8,917)(9,900)(10,894)};
\end{axis}
\begin{axis}[mat=38pt, at={(48.7pt,-802.7pt)}, width=112.8pt, height=28pt, xmax=10.5, ymax=4.5,
  ytick={1,...,4}, yticklabels={{\textcolor{cTP}{TP53:p.I254F}},{\textcolor{cTP}{TP53:p.R248Q}},{\textcolor{lOC}{11+}},{\textcolor{lOC}{del(5q,6p,18,20)}}}]
\rect{0.5}{0.5}{10.5}{2.5}{bTP8}
\rect{0.5}{2.5}{10.5}{4.5}{cOC}
\end{axis}

%================ SDS9
\begin{axis}[tree, at={(262.6pt,-642.7pt)}, width=204.1pt, height=114pt, xmax=28.56, ymax=700, ytick={0,100,...,700}]
\addplot[tg] coordinates {(1,0)(27,0) (nan,nan)
(1.5,0)(1.5,12) (nan,nan) (1,12)(2,12) (nan,nan) (1,12)(1,542) (nan,nan) (2,12)(2,604) (nan,nan)
(3,0)(3,475) (nan,nan)
(4.5,0)(4.5,10) (nan,nan) (4,10)(5,10) (nan,nan) (4,10)(4,536) (nan,nan) (5,10)(5,508) (nan,nan)
(6.5,0)(6.5,15) (nan,nan) (6,15)(7,15) (nan,nan) (6,15)(6,602) (nan,nan) (7,15)(7,528) (nan,nan)
(8,0)(8,549) (nan,nan) (9,0)(9,516) (nan,nan) (11,0)(11,567) (nan,nan)
(12.5,0)(12.5,10) (nan,nan) (12,10)(13,10) (nan,nan) (12,10)(12,591) (nan,nan) (13,10)(13,618) (nan,nan)
(14.5,0)(14.5,18) (nan,nan) (14,18)(15,18) (nan,nan) (14,18)(14,530) (nan,nan) (15,18)(15,549) (nan,nan)
(16.5,0)(16.5,12) (nan,nan) (16,12)(17,12) (nan,nan) (16,12)(16,520) (nan,nan) (17,12)(17,536) (nan,nan)
(18,0)(18,622) (nan,nan)
(19.5,0)(19.5,20) (nan,nan) (19,20)(20,20) (nan,nan) (19,20)(19,643) (nan,nan) (20,20)(20,573) (nan,nan)
(21.5,0)(21.5,15) (nan,nan) (21,15)(22,15) (nan,nan) (21,15)(21,587) (nan,nan) (22,15)(22,577) (nan,nan)
(23.5,0)(23.5,10) (nan,nan) (23,10)(24,10) (nan,nan) (23,10)(23,567) (nan,nan) (24,10)(24,557) (nan,nan)
(25.5,0)(25.5,12) (nan,nan) (25,12)(26,12) (nan,nan) (25,12)(25,536) (nan,nan) (26,12)(26,508) (nan,nan)
(27,0)(27,571)};
\addplot[tk=black] coordinates {(10,0)(10,485)};
\addplot[dl] coordinates {(1,542)(2,604)(3,475)(4,536)(5,508)(6,602)(7,528)(8,549)(9,516)(10,485)(11,567)(12,591)(13,618)(14,530)(15,549)(16,520)(17,536)(18,622)(19,643)(20,573)(21,587)(22,577)(23,567)(24,557)(25,536)(26,508)(27,571)};
\end{axis}
\begin{axis}[mat=40pt, at={(262.6pt,-756pt)}, width=196.4pt, height=8pt, xmax=27.5, ymax=1.5,
  ytick={1}, yticklabels={{DNMT3A:p.F731L}}]
\rect{0.5}{0.5}{27.5}{1.5}{bOth}
\cell{10}{10}{1}{black}
\end{axis}

%================ SDS10
\begin{axis}[tree, at={(554.9pt,-642.7pt)}, width=206.6pt, height=114pt, xmax=28.76, ymax=700, ytick={0,100,...,700}]
\addplot[tg] coordinates {(1,0)(27,0) (nan,nan)
(1.5,0)(1.5,10) (nan,nan) (1,10)(2,10) (nan,nan) (1,10)(1,512) (nan,nan) (2,10)(2,571) (nan,nan)
(3,0)(3,495) (nan,nan) (4,0)(4,413) (nan,nan)
(5.5,0)(5.5,12) (nan,nan) (5,12)(6,12) (nan,nan) (5,12)(5,512) (nan,nan) (6,12)(6,549) (nan,nan)
(7,0)(7,528) (nan,nan)
(8.5,0)(8.5,15) (nan,nan) (8,15)(9,15) (nan,nan) (8,15)(8,557) (nan,nan) (9,15)(9,530) (nan,nan)
(10.5,0)(10.5,10) (nan,nan) (10,10)(11,10) (nan,nan) (10,10)(10,532) (nan,nan) (11,10)(11,589) (nan,nan)
(12,0)(12,516) (nan,nan) (13,0)(13,571) (nan,nan)
(14.5,0)(14.5,12) (nan,nan) (14,12)(15,12) (nan,nan) (14,12)(14,542) (nan,nan) (15,12)(15,542) (nan,nan)
(16,0)(16,569) (nan,nan)
(17.5,0)(17.5,15) (nan,nan) (17,15)(18,15) (nan,nan) (17,15)(17,624) (nan,nan) (18,15)(18,622)};
\addplot[tk=cSBDS, line width=2pt] coordinates {(13,0)(19,0)};
\addplot[tk=cSBDS] coordinates {(19,0)(19,567)};
\addplot[tk=cEIF] coordinates {(20,0)(20,571)};
\addplot[tk=cPRPF, line width=2pt] coordinates {(21.7,0)(24.1,0)};
\addplot[tk=cPRPF] coordinates {(22,0)(22,96)};
\addplot[tn=cPRPF, line width=1.3pt] coordinates {(21,96)(23.25,96) (nan,nan) (21,96)(21,577) (nan,nan) (23.25,96)(23.25,123) (nan,nan) (22.5,123)(24,123) (nan,nan) (22.5,123)(22.5,130) (nan,nan) (22,130)(23,130) (nan,nan) (22,130)(22,583) (nan,nan) (23,130)(23,587) (nan,nan) (24,123)(24,499)};
\addplot[tk=cTP, line width=2pt] coordinates {(24.1,0)(26,0)};
\addplot[tk=cTP] coordinates {(26,0)(26,250)};
\addplot[tn=cTP, line width=1.2pt] coordinates {(25.5,250)(27,250) (nan,nan) (25.5,250)(25.5,352) (nan,nan) (25,352)(26,352) (nan,nan) (25,352)(25,510) (nan,nan) (26,352)(26,526) (nan,nan) (27,250)(27,520)};
\addplot[dl] coordinates {(1,512)(2,571)(3,495)(4,413)(5,512)(6,549)(7,528)(8,557)(9,530)(10,532)(11,589)(12,516)(13,571)(14,542)(15,542)(16,569)(17,624)(18,622)(19,567)(20,571)(21,577)(22,583)(23,587)(24,499)(25,510)(26,526)(27,520)};
\end{axis}
\begin{axis}[mat=40pt, at={(554.9pt,-755.3pt)}, width=197.4pt, height=29.7pt, xmax=27.5, ymax=4.5,
  ytick={1,...,4}, yticklabels={{\textcolor{cEIF}{EIF6:p.L104*}},{\textcolor{cPRPF}{PRPF8:p.C1086R}},{\textcolor{cSBDS}{SBDS:p.I87V}},{\textcolor{cTP}{TP53:p.H179Q}}}]
\rect{0.5}{0.5}{27.5}{1.5}{bEIF}
\rect{0.5}{1.5}{27.5}{2.5}{bPRPF}
\rect{0.5}{2.5}{27.5}{3.5}{bSBDS}
\rect{0.5}{3.5}{27.5}{4.5}{bTP}
\cell{20}{20}{1}{cEIF}
\cell{21}{24}{2}{cPRPF}
\cell{19}{19}{3}{cSBDS}
\cell{25}{27}{4}{cTP}
\end{axis}

%================ canvas: age-legend dots and colour legend
\begin{axis}[scale only axis, width=800pt, height=832pt, at={(0pt,0pt)}, anchor=north west,
  xmin=0, xmax=800, ymin=0, ymax=832, y dir=reverse, hide axis, clip=false]
\addplot[dl, mark size=2.4pt] coordinates {(25,12)};
\addplot[dd, mark size=2.4pt] coordinates {(25,20)};
\addplot[dl] coordinates {(20.5,316.7) (234.5,316.7) (526.5,316.7) (20,403.3) (234.2,403.3) (525.8,404) (19.5,641.7) (234.5,641.7) (526.5,641.7)};
\rect{333.3}{803.5}{341}{813}{cTP}
\rect{410}{803.5}{418}{813}{cEIF}
\rect{489.7}{803.5}{497.4}{813}{cRPL5}
\rect{569.2}{803.5}{577}{813}{cRPL22}
\rect{648.7}{803.5}{656.4}{813}{cPRPF}
\rect{333.3}{818.5}{341}{828}{cSBDS}
\rect{410}{818.5}{418}{828}{black}
\rect{489.7}{818.5}{497.4}{828}{cC20}
\rect{569.2}{818.5}{577}{828}{cC7}
\rect{648.7}{818.5}{656.4}{828}{cOC}
\end{axis}

%================ texts
\node[font=\fontsize{10}{12}\selectfont, anchor=base] at (400pt,-9pt) {SDS5};
\node[rotate=-90, font=\fontsize{7.4}{9}\selectfont] at (795.5pt,-61pt) {Number of somatic mutations};
\foreach \t/\x/\y in {SDS1/113/302.6, SDS2/361.5/302.6, SDS3/654/302.6, SDS4/106.7/400, SDS6/356.7/400, SDS7/650/400, SDS8/105/639.3, SDS9/361.5/639.3, SDS10/652/639.3}
  {\node[font=\fontsize{9.3}{11}\selectfont, anchor=base] at (\x pt,-\y pt) {\t};}
\foreach \x/\y in {13/4.8, 7.7/309.5, 222/309.5, 514/309.5, 7.3/396.7, 221.7/396.7, 513.3/396.7, 7.7/635, 222/635, 514/635}
  {\node[font=\fontsize{5.9}{7}\selectfont, anchor=base west, inner sep=0pt] at (\x pt,-\y pt) {Age at Sample};}
\foreach \v/\x/\y in {22.2/29.5/13.8, 24.1/29.5/21.8, 4.2/25/318.5, 5.8/239/318.5, 8.3/531/318.5, 11.1/24.5/405.1, 23.3/238.7/405.1, 24.9/530.3/405.8, 25.0/24/643.5, 26.2/239/643.5, 32.8/531/643.5}
  {\node[font=\fontsize{5}{6}\selectfont, anchor=base west, inner sep=0pt] at (\x pt,-\y pt) {\v};}
\foreach \t/\x/\y in {TP53/330.8/812.2, EIF6/407.7/812.2, RPL5/486/812.2, RPL22/566.7/812.2, PRPF8/645/812.2, SBDS/330.8/827.2}
  {\node[font=\fontsize{11}{13}\selectfont\itshape, anchor=base east, inner sep=0pt] at (\x pt,-\y pt) {\t};}
\foreach \t/\x/\y in {Other gene/407.7/827.2, Chr 20/486/827.2, Chr 7/566.7/827.2, Other Chr/645/827.2}
  {\node[font=\fontsize{11}{13}\selectfont, anchor=base east, inner sep=0pt] at (\x pt,-\y pt) {\t};}
\end{tikzpicture}
\end{document}
